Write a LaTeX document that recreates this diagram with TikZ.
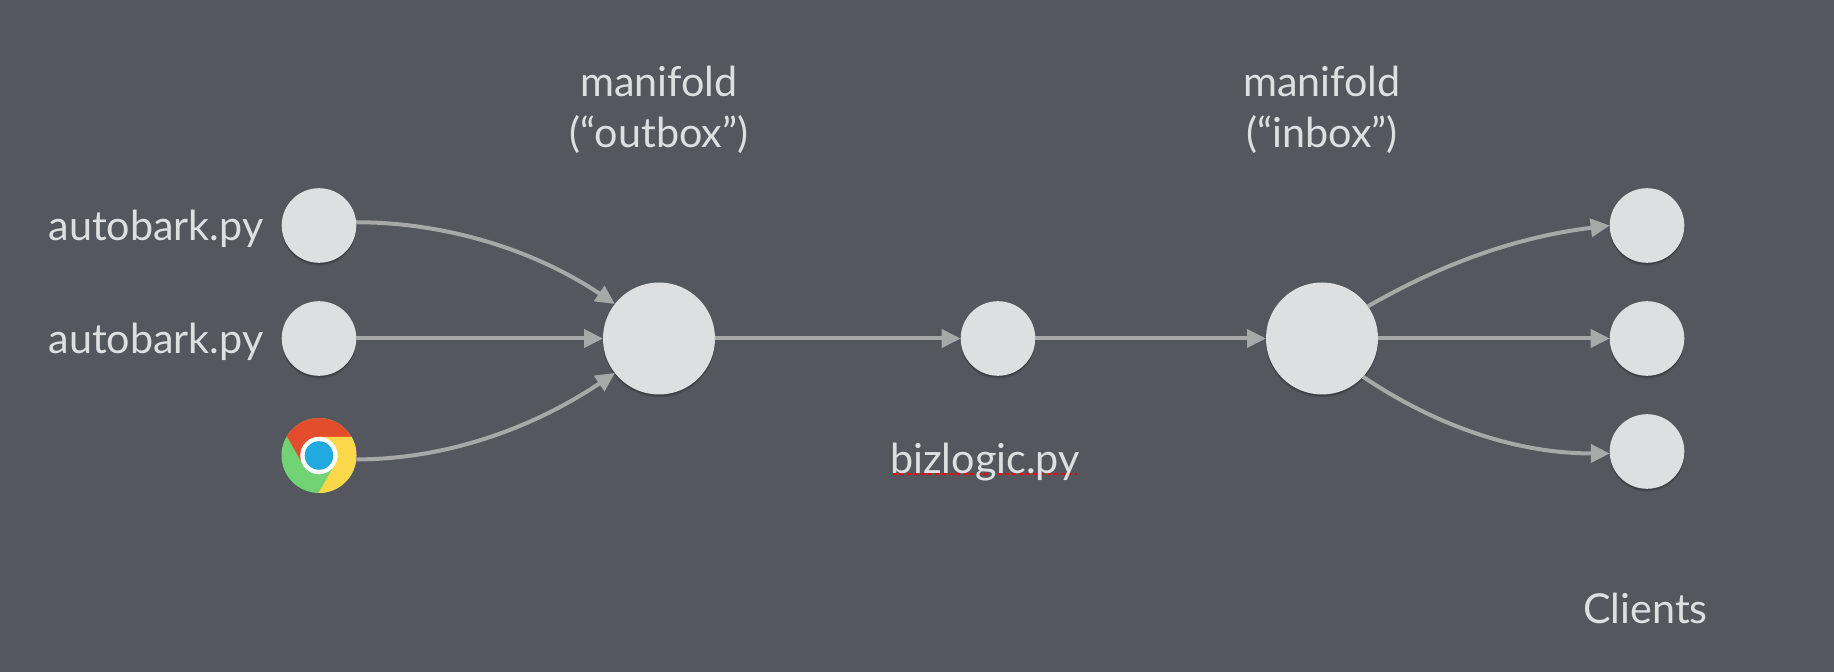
\documentclass[tikz,border=0pt]{standalone}
\usepackage{fontspec}
\setmainfont{Lato}
\usetikzlibrary{arrows.meta,shadows}
\definecolor{bgc}{HTML}{54575E}
\definecolor{disc}{HTML}{DEDFE1}
\definecolor{wire}{HTML}{A6A9A7}
\definecolor{cred}{HTML}{E44D2B}
\definecolor{cgreen}{HTML}{72D374}
\definecolor{cyellow}{HTML}{FBD84A}
\definecolor{cblue}{HTML}{21AADF}
\tikzset{
  x=1pt,y=1pt,
  disc base/.style={circle,fill=disc,draw=none,inner sep=0pt,outer sep=0pt,
    general shadow={shadow xshift=0pt,shadow yshift=-3pt,opacity=.12,fill=black},
    general shadow={shadow xshift=0pt,shadow yshift=-1.5pt,opacity=.18,fill=black}},
  small disc/.style={disc base,minimum size=74.6pt},
  big disc/.style={disc base,minimum size=112pt},
  plain disc/.style={circle,inner sep=0pt,outer sep=0pt,minimum size=75pt},
  wired/.style={draw=wire,line width=4pt,-{Triangle[length=19pt,width=18pt]}},
  label text/.style={text=disc,font=\fontsize{41.3}{51}\selectfont,inner sep=0pt,anchor=base,align=center},
}
\begin{document}
\begin{tikzpicture}
\useasboundingbox (0,0) rectangle (1834,672);
\fill[bgc] (0,0) rectangle (1834,672);

\node[small disc] (a1) at (319,446.5) {};
\node[small disc] (a2) at (319,333.5) {};
\node[plain disc] (chrome) at (319,216.5) {};
\begin{scope}[shift={(chrome.center)}]
  \clip (0,0) circle (37.5);
  \fill[cgreen] (0,0) circle (38);
  \fill[cred] (0,18.5) -- (45,18.5) -- (45,45) -- (-45,45) -- (-40,33) -- (-16,-9) -- cycle;
  \fill[cyellow] (0,18.5) -- (45,18.5) -- (45,-45) -- (-5,-45) -- (16,-9) -- cycle;
  \fill[white] (0,0) circle (18.7);
  \fill[cblue] (0,0) circle (14.3);
\end{scope}
\node[big disc] (outbox) at (659,333.5) {};
\node[small disc] (biz) at (998,333.5) {};
\node[big disc] (inbox) at (1322,333.5) {};
\node[small disc] (c1) at (1647,446.5) {};
\node[small disc] (c2) at (1647,333.5) {};
\node[small disc] (c3) at (1647,220.5) {};

\draw[wired] (a1.5) to[out=0,in=146,looseness=.88] (outbox.142);
\draw[wired] (a2.east) -- (outbox.west);
\draw[wired] (chrome.-6) to[out=0,in=214,looseness=.88] (outbox.218);
\draw[wired] (outbox.east) -- (biz.west);
\draw[wired] (biz.east) -- (inbox.west);
\draw[wired] (inbox.35) to[out=30,in=187,looseness=.9] (c1.180);
\draw[wired] (inbox.east) -- (c2.west);
\draw[wired] (inbox.-43) to[out=-34,in=180,looseness=.9] (c3.183);

\draw[red,line width=2.5pt,dash pattern=on 4pt off 3pt] (893,198) -- (1077,198);

\node[label text] (tout1) at (659,575) {manifold};
\node[label text] (tout2) at (659,524) {(“outbox”)};
\node[label text] (tin1) at (1322,575) {manifold};
\node[label text] (tin2) at (1322,524) {(“inbox”)};
\node[label text] (ta1) at (156,431) {autobark.py};
\node[label text] (ta2) at (156,318) {autobark.py};
\node[label text] (tbiz) at (985,198) {bizlogic.py};
\node[label text] (tcl) at (1645.5,48) {Clients};
\end{tikzpicture}
\end{document}
